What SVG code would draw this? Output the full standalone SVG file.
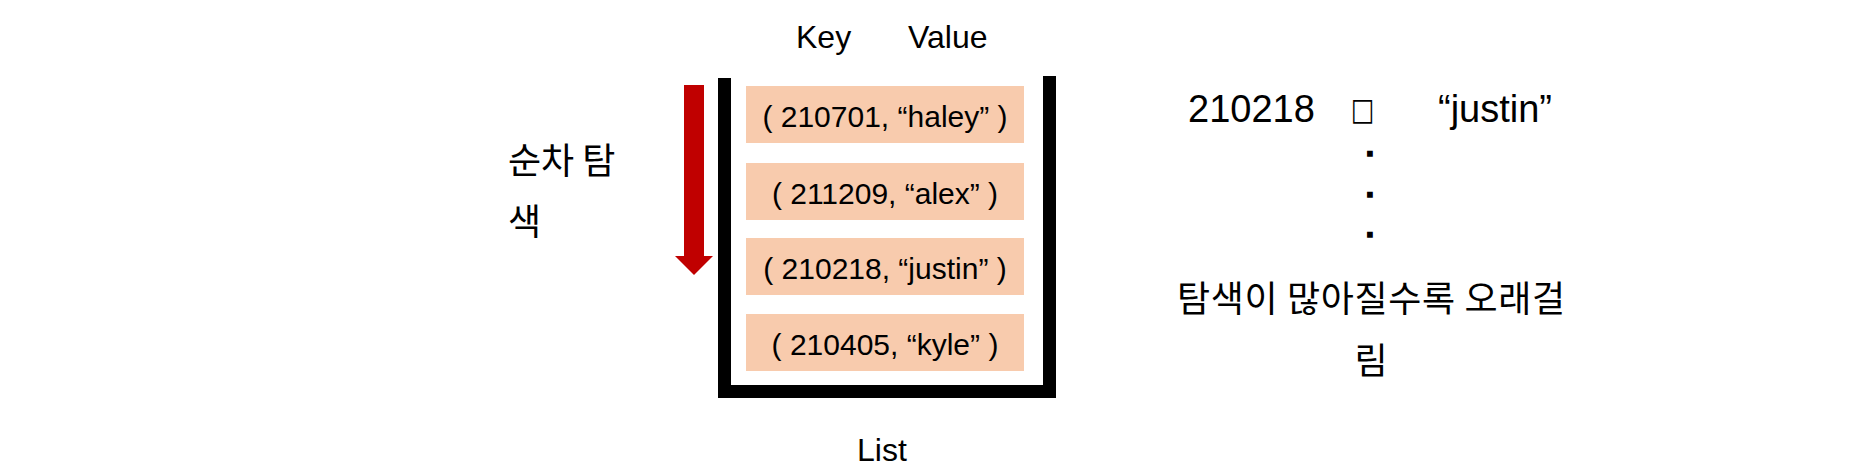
<svg xmlns="http://www.w3.org/2000/svg" width="1871" height="473" viewBox="0 0 1871 473">
<style>
.lat{font-family:"Liberation Sans",Arial,sans-serif;fill:#000}
.kr{font-family:"Noto Sans CJK KR","Liberation Sans",sans-serif;fill:#000;font-size:36px}
.dot{font-family:"Liberation Sans",Arial,sans-serif;font-size:30px;font-weight:bold;text-anchor:middle;fill:#000;stroke:#000;stroke-width:1.5px}
.item rect{fill:#F8CBAD}
.item text{font-family:"Liberation Sans",Arial,sans-serif;font-size:30px;text-anchor:middle;fill:#000}
</style>
<rect width="1871" height="473" fill="#fff"/>
<g id="labels">
<text class="lat" x="796" y="48" font-size="32">Key</text>
<text class="lat" x="908" y="48" font-size="32">Value</text>
<text class="lat" x="857" y="461" font-size="32">List</text>
</g>
<g id="search-label">
<text class="kr" x="508" y="174">순차 탐</text>
<text class="kr" x="508" y="235">색</text>
</g>
<g id="arrow">
<rect x="684" y="85" width="20" height="172" fill="#C00000"/>
<polygon points="675,256 713,256 694,275" fill="#C00000"/>
</g>
<g id="list-frame">
<path d="M724.5 78 V391.5 H1049.5 V76" fill="none" stroke="#000" stroke-width="13" stroke-linejoin="miter"/>
</g>
<g id="item1" class="item">
<rect x="746" y="86" width="278" height="57"/>
<text x="885" y="127">( 210701, “haley” )</text>
</g>
<g id="item2" class="item">
<rect x="746" y="163" width="278" height="57"/>
<text x="885" y="204">( 211209, “alex” )</text>
</g>
<g id="item3" class="item">
<rect x="746" y="238" width="278" height="57"/>
<text x="885" y="279">( 210218, “justin” )</text>
</g>
<g id="item4" class="item">
<rect x="746" y="314" width="278" height="57"/>
<text x="885" y="355">( 210405, “kyle” )</text>
</g>
<g id="lookup">
<text class="lat" x="1188" y="122" font-size="38">210218</text>
<text transform="translate(1362.5,120) scale(0.8,1)" x="0" y="0" font-family="DejaVu Sans,sans-serif" font-size="31" text-anchor="middle" fill="#000">□</text>
<text class="lat" x="1438" y="122" font-size="38">“justin”</text>
<text class="dot" x="1370" y="156">.</text>
<text class="dot" x="1370" y="197">.</text>
<text class="dot" x="1370" y="237">.</text>
</g>
<g id="note">
<text class="kr" x="1371" y="312" text-anchor="middle" textLength="388" lengthAdjust="spacing">탐색이 많아질수록 오래걸</text>
<text class="kr" x="1371" y="374" text-anchor="middle">림</text>
</g>
</svg>
